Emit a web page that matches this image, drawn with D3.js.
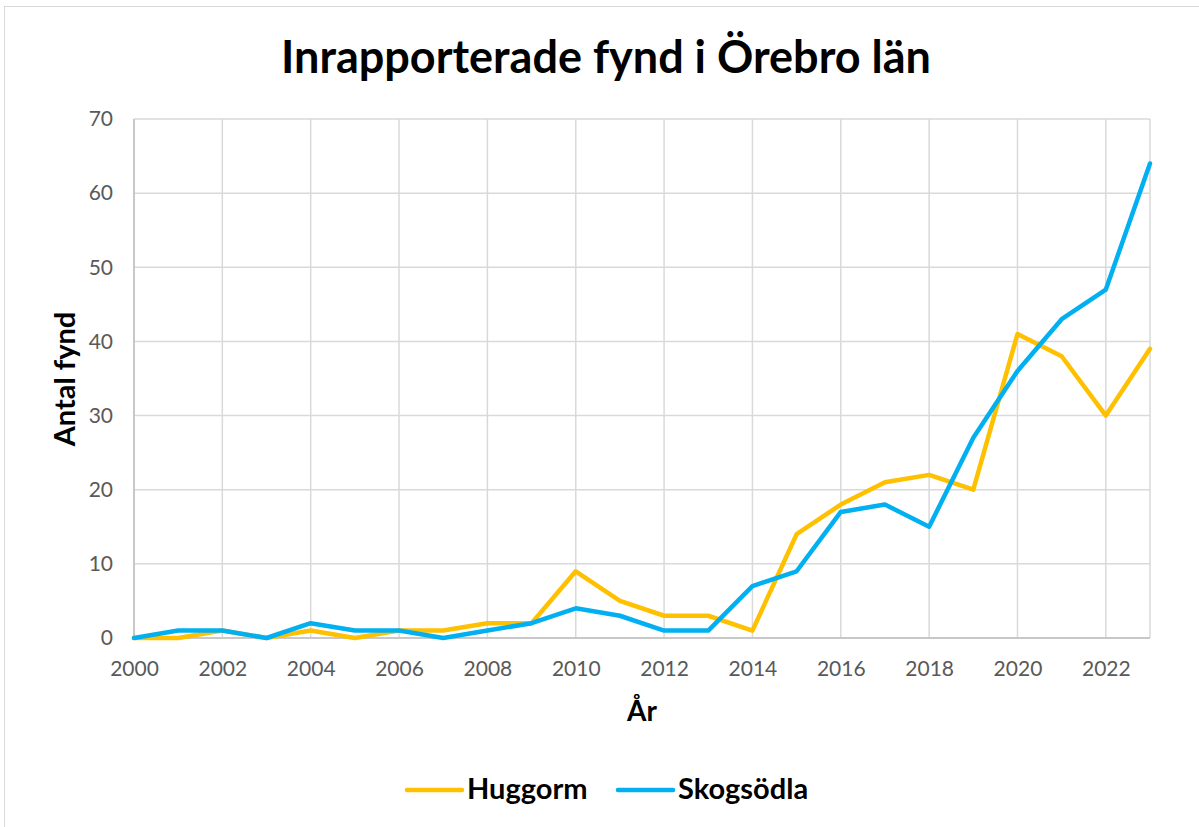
<!DOCTYPE html>
<html><head><meta charset="utf-8">
<script src="https://cdn.jsdelivr.net/npm/d3@7"></script>
<style>body{margin:0;background:#fff}svg{display:block}</style>
</head><body>
<svg id="c" width="1199" height="827"></svg>
<script>
const years = d3.range(2000, 2024);
const huggorm = [0,0,1,0,1,0,1,1,2,2,9,5,3,3,1,14,18,21,22,20,41,38,30,39];
const skogsodla = [0,1,1,0,2,1,1,0,1,2,4,3,1,1,7,9,17,18,15,27,36,43,47,64];
const xTicks = [2000,2002,2004,2006,2008,2010,2012,2014,2016,2018,2020,2022];
const yTicks = [0,10,20,30,40,50,60,70];
const seriesNames = ["Huggorm","Skogsödla"];
const colors = ["#FFC000","#00B0F0"];

const svg = d3.select("#c");
const font = "Lato, sans-serif";
svg.append("rect").attr("x",4.5).attr("y",6.5).attr("width",1200).attr("height",830)
  .attr("fill","#fff").attr("stroke","#d9d9d9");

const x = d3.scaleLinear().domain([2000,2023]).range([134,1150]);
const y = d3.scaleLinear().domain([0,70]).range([638,119]);

const g = svg.append("g");
g.selectAll(".vg").data(xTicks.concat([2023])).enter().append("line")
  .attr("x1",d=>x(d)).attr("x2",d=>x(d)).attr("y1",y(0)).attr("y2",y(70))
  .attr("stroke","#d9d9d9").attr("stroke-width",1.5);
g.selectAll(".hg").data(yTicks).enter().append("line")
  .attr("x1",x(2000)).attr("x2",x(2023)).attr("y1",d=>y(d)).attr("y2",d=>y(d))
  .attr("stroke","#d9d9d9").attr("stroke-width",1.5);
g.append("line").attr("x1",x(2000)).attr("x2",x(2023)).attr("y1",y(0)).attr("y2",y(0)).attr("stroke","#bfbfbf").attr("stroke-width",1.5);
g.append("line").attr("x1",x(2000)).attr("x2",x(2000)).attr("y1",y(0)).attr("y2",y(70)).attr("stroke","#bfbfbf").attr("stroke-width",1.5);

const ya = d3.axisLeft(y).tickValues(yTicks).tickSize(0).tickPadding(21);
svg.append("g").attr("transform",`translate(${x(2000)},0)`).call(ya)
  .call(s=>{s.select(".domain").remove();s.selectAll("text").attr("font-family",font).attr("font-size",21).attr("fill","#595959");});
const xa = d3.axisBottom(x).tickValues(xTicks).tickFormat(d3.format("d")).tickSize(0).tickPadding(23);
svg.append("g").attr("transform",`translate(0,${y(0)})`).call(xa)
  .call(s=>{s.select(".domain").remove();s.selectAll("text").attr("font-family",font).attr("font-size",21).attr("fill","#595959");});

const line = d3.line().x((d,i)=>x(years[i])).y(d=>y(d));
[huggorm, skogsodla].forEach((s,i)=>{
  svg.append("path").datum(s).attr("d",line).attr("fill","none")
    .attr("stroke",colors[i]).attr("stroke-width",4.5).attr("stroke-linejoin","round").attr("stroke-linecap","round");
});

svg.append("text").attr("x",606).attr("y",73).attr("text-anchor","middle")
  .attr("font-family",font).attr("font-weight","bold").attr("font-size",45).attr("fill","#000")
  .text("Inrapporterade fynd i Örebro län");
svg.append("text").attr("transform","translate(75,379) rotate(-90)").attr("text-anchor","middle")
  .attr("font-family",font).attr("font-weight","bold").attr("font-size",29).text("Antal fynd");
svg.append("text").attr("x",642).attr("y",721).attr("text-anchor","middle")
  .attr("font-family",font).attr("font-weight","bold").attr("font-size",28).text("År");

const legX = [407, 618];
seriesNames.forEach((n,i)=>{
  svg.append("line").attr("x1",legX[i]).attr("x2",legX[i]+55).attr("y1",790).attr("y2",790)
    .attr("stroke",colors[i]).attr("stroke-width",4.5).attr("stroke-linecap","round");
  svg.append("text").attr("x",legX[i]+60).attr("y",799).attr("font-family",font)
    .attr("font-weight","bold").attr("font-size",29).text(n);
});
</script>
</body></html>
